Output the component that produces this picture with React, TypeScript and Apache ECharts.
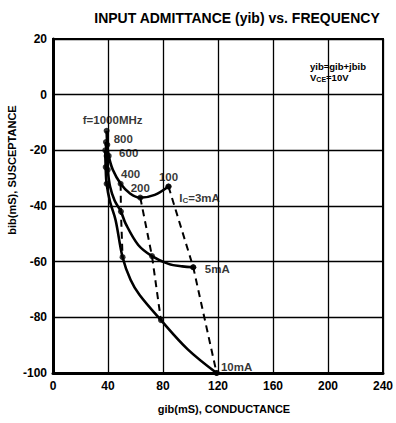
import React, { useEffect, useRef } from "react";
import * as echarts from "echarts";

// Collector-current curves: [g_ib (mS), b_ib (mS), frequency MHz or null for in-between path points]
const ic3mA: [number, number, number | null][] = [
  [39, -13, 1000], [39.5, -18, 800], [40.5, -22, 600], [43.5, -27, null], [49.2, -32, 400],
  [56, -35.5, null], [63.5, -37, 200], [74, -36, null], [84, -33, 100],
];
const ic5mA: [number, number, number | null][] = [
  [38.5, -17, 1000], [39, -22, 800], [39.8, -27, 600], [41.5, -33, null], [44.8, -38, null],
  [49.4, -42, 400], [53, -46.5, null], [62, -54, null], [72, -58, 200], [84, -60.8, null],
  [94, -61.7, null], [102, -62, 100],
];
const ic10mA: [number, number, number | null][] = [
  [38, -20, 1000], [38.3, -26, 800], [39, -32, 600], [41.5, -38.5, null], [45.5, -45, null],
  [50.6, -58.4, 400], [56.4, -66.5, null], [63, -72, null], [78.5, -81, 200], [98, -91.5, null],
  [119, -100, 100],
];
const currentNames = ["3mA", "5mA", "10mA"];
const dashedFreqs = [400, 200, 100];
const xTicks = { min: 0, max: 240, interval: 40 };
const yTicks = { min: -100, max: 20, interval: 20 };

const FONT = "Liberation Sans, Arial, sans-serif";

export default function App() {
  const ref = useRef<HTMLDivElement>(null);

  useEffect(() => {
    if (!ref.current) return;
    const chart = echarts.init(ref.current, undefined, { renderer: "svg" });
    const curves = [ic3mA, ic5mA, ic10mA];

    // text offsets for the frequency labels on the 3 mA curve
    const freqLabelOffset: Record<number, [number, number]> = {
      1000: [6, -11],
      800: [16, -6],
      600: [20, -3],
      400: [10, -10],
      200: [0, -10],
      100: [0, -10],
    };
    const currentLabelOffset: [number, number][] = [[31, 11], [24, 2], [20, -6]];

    const labelBase = {
      color: "#000",
      textBorderWidth: 0,
      textBorderColor: "transparent",
      fontFamily: FONT,
      fontSize: 11.5,
      fontWeight: "bold",
      rich: {
        s: {
          fontSize: 8,
          fontFamily: FONT,
          fontWeight: "bold",
          color: "#000",
          textBorderWidth: 0,
          textBorderColor: "transparent",
          verticalAlign: "bottom",
          padding: [6, 0, 0, 0],
        },
      },
    };

    const lineSeries = curves.map((c, i) => ({
      type: "line",
      name: currentNames[i],
      data: c.map((p) => [p[0], p[1]]),
      smooth: 0.35,
      showSymbol: false,
      lineStyle: { color: "#000", width: 2.6 },
      z: 3,
    }));

    const dashed = dashedFreqs.map((f) => ({
      type: "line",
      data: curves.map((c) => {
        const p = c.find((q) => q[2] === f)!;
        return [p[0], p[1]];
      }),
      showSymbol: false,
      lineStyle: { color: "#000", width: 2, type: [7, 5] },
      z: 2,
    }));

    const markers: any[] = [];
    curves.forEach((c, ci) => {
      c.forEach((p) => {
        if (p[2] == null) return;
        const item: any = { value: [p[0], p[1]] };
        if (ci === 0) {
          item.label = {
            ...labelBase,
            show: true,
            position: "inside",
            offset: freqLabelOffset[p[2]],
            formatter: p[2] === 1000 ? "f=1000MHz" : String(p[2]),
          };
        }
        markers.push(item);
      });
    });

    const currentLabels = curves.map((c, ci) => {
      const p = c.find((q) => q[2] === 100)!;
      return {
        value: [p[0], p[1]],
        label: {
          ...labelBase,
          show: true,
          position: "inside",
          offset: currentLabelOffset[ci],
          formatter: ci === 0 ? "I{s|C}=" + currentNames[ci] : currentNames[ci],
        },
      };
    });

    chart.setOption({
      animation: false,
      backgroundColor: "#fff",
      title: {
        text: "INPUT ADMITTANCE (yib) vs. FREQUENCY",
        left: 232,
        top: 6,
        textAlign: "center",
        textStyle: { fontFamily: FONT, fontSize: 14, fontWeight: "bold", color: "#000" },
      },
      grid: {
        left: 53,
        right: 8,
        top: 39,
        bottom: 50,
        show: true,
        borderColor: "#000",
        borderWidth: 2,
      },
      xAxis: {
        type: "value",
        ...xTicks,
        axisLine: { show: true, onZero: false, lineStyle: { color: "#000", width: 3 } },
        axisTick: { show: false },
        splitLine: { show: true, lineStyle: { color: "#000", width: 1.3 } },
        axisLabel: { color: "#000", fontFamily: FONT, fontSize: 12, fontWeight: "bold", margin: 7 },
      },
      yAxis: {
        type: "value",
        ...yTicks,
        axisLine: { show: true, onZero: false, lineStyle: { color: "#000", width: 3 } },
        axisTick: { show: false },
        splitLine: { show: true, lineStyle: { color: "#000", width: 1.3 } },
        axisLabel: { color: "#000", fontFamily: FONT, fontSize: 12, fontWeight: "bold", margin: 6 },
      },
      series: [
        ...lineSeries,
        ...dashed,
        {
          type: "scatter",
          data: markers,
          symbolSize: 6,
          itemStyle: { color: "#000" },
          label: labelBase,
          z: 4,
        },
        {
          type: "scatter",
          data: currentLabels,
          symbolSize: 6,
          itemStyle: { color: "#000" },
          label: labelBase,
          z: 4,
        },
      ],
      graphic: [
        {
          type: "text",
          x: 12,
          y: 170,
          rotation: Math.PI / 2,
          style: {
            text: "bib(mS), SUSCEPTANCE",
            fontFamily: FONT,
            fontSize: 11,
            fontWeight: "bold",
            fill: "#000",
            align: "center",
            verticalAlign: "middle",
          },
        },
        {
          type: "text",
          x: 224,
          y: 409,
          style: {
            text: "gib(mS), CONDUCTANCE",
            fontFamily: FONT,
            fontSize: 11,
            fontWeight: "bold",
            fill: "#000",
            align: "center",
            verticalAlign: "middle",
          },
        },
        {
          type: "text",
          x: 310,
          y: 66,
          style: {
            text: "yib=gib+jbib",
            fontFamily: FONT,
            fontSize: 9.5,
            fontWeight: "bold",
            fill: "#000",
            align: "left",
            verticalAlign: "middle",
          },
        },
        {
          type: "text",
          x: 310,
          y: 77,
          style: {
            text: "V{s|CE}=10V",
            fontFamily: FONT,
            fontSize: 9.5,
            fontWeight: "bold",
            fill: "#000",
            align: "left",
            verticalAlign: "middle",
            rich: { s: { fontSize: 7, fontFamily: FONT, fontWeight: "bold", fill: "#000", padding: [4, 0, 0, 0] } },
          },
        },
      ],
    });

    return () => chart.dispose();
  }, []);

  return (
    <div
      ref={ref}
      style={{ position: "absolute", left: 0, top: 0, width: 396, height: 423 }}
    />
  );
}
